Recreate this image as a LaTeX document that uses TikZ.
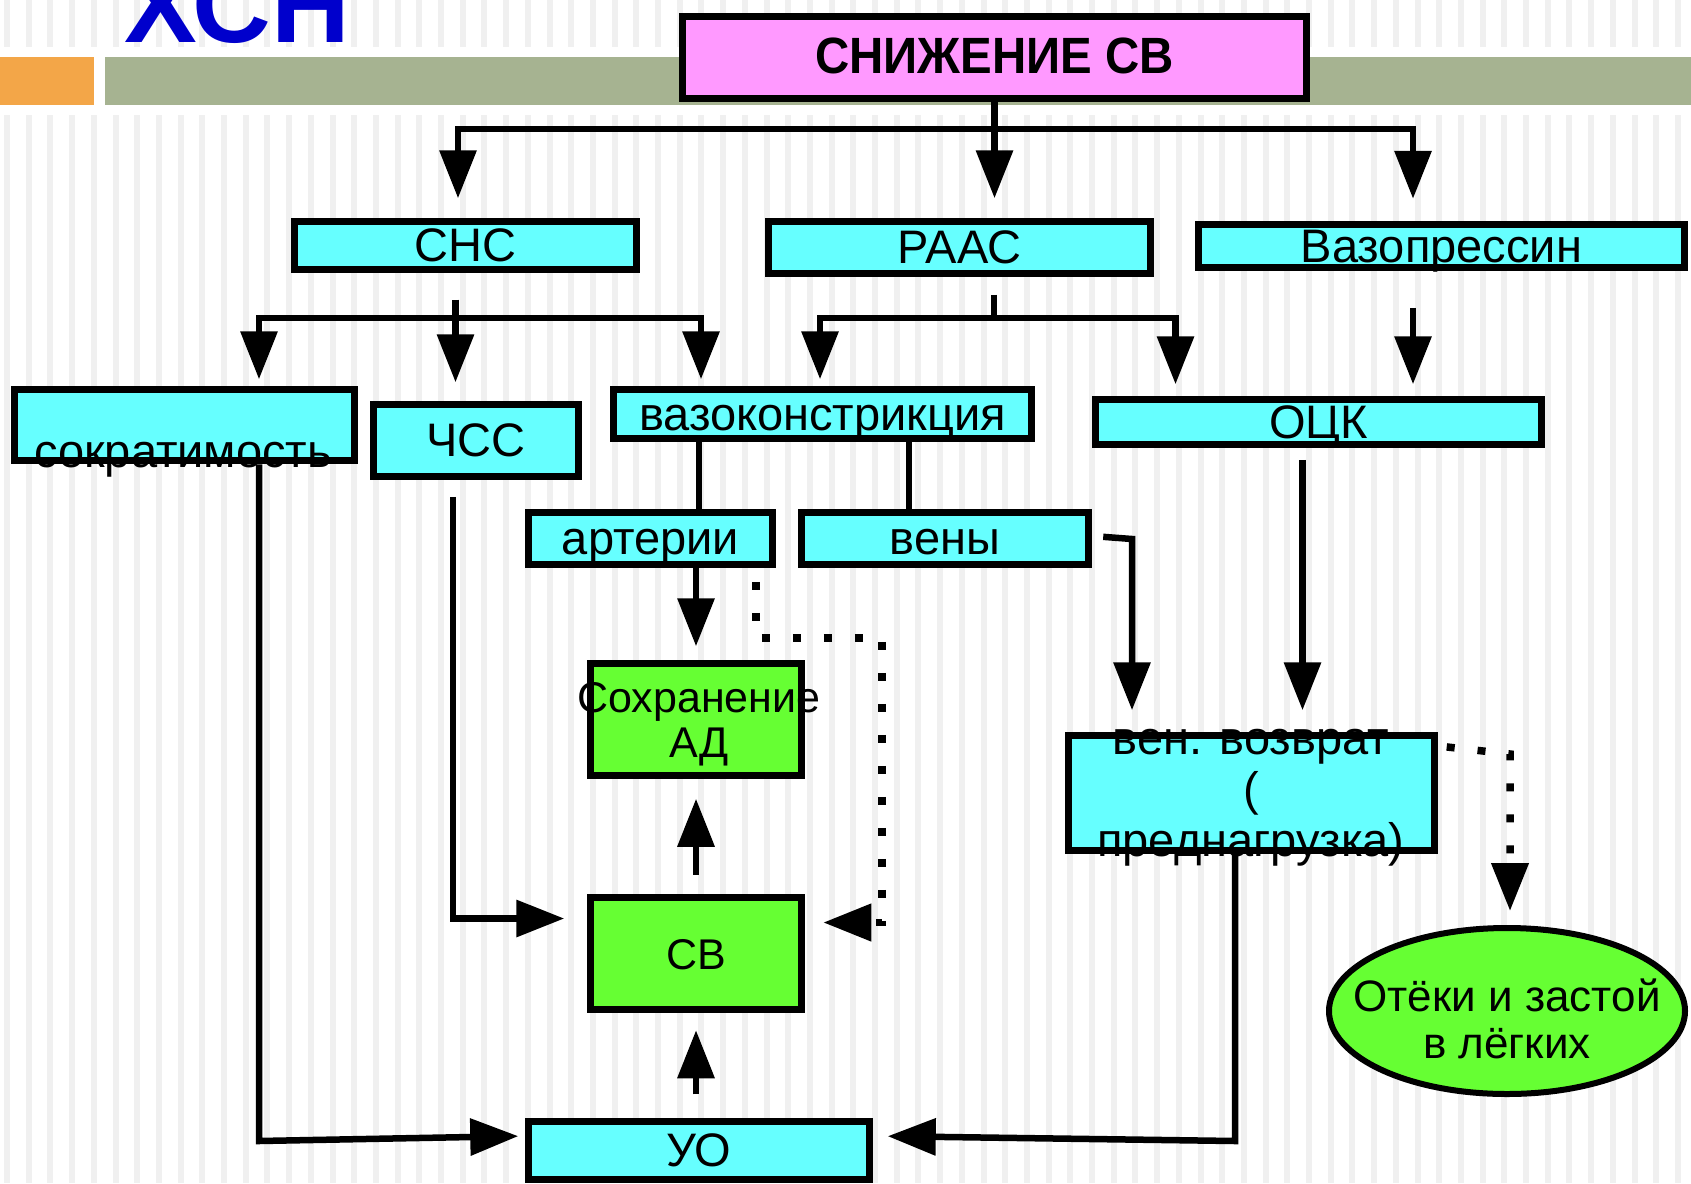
\documentclass[tikz,border=0pt]{standalone}
\usepackage{fontspec}
\setmainfont{Liberation Sans}
\newfontfamily\condfont[FakeStretch=0.93]{Liberation Sans}
\usetikzlibrary{arrows.meta,positioning,shapes.geometric}

\definecolor{boxcyan}{RGB}{102,255,255}
\definecolor{boxgreen}{RGB}{102,255,51}
\definecolor{boxpink}{RGB}{255,153,255}
\definecolor{titleblue}{RGB}{0,0,204}
\definecolor{barorange}{RGB}{243,166,72}
\definecolor{barolive}{RGB}{166,179,145}
\definecolor{stripegray}{RGB}{240,240,240}

\newcommand\boxfont{\fontsize{47}{51}\selectfont}
\newcommand\greenfont{\fontsize{43}{45}\selectfont}
\newcommand\ovalfont{\fontsize{44}{47}\selectfont}

\begin{document}
\begin{tikzpicture}[x=1pt,y=-1pt,
  block/.style={draw, line width=7.5pt, inner sep=0pt, fill=boxcyan,
    font=\boxfont, text height=36pt, text depth=4pt},
  greenblock/.style={block, fill=boxgreen, font=\greenfont},
  caption/.style={inner sep=0pt, align=center},
  wire/.style={line width=6.5pt},
  arrow/.style={wire, -{Triangle[length=48pt,width=36pt]}},
  dotarrow/.style={arrow, line width=7.5pt, dash pattern=on 8pt off 23pt}]

\useasboundingbox (0,0) rectangle (1691,1183);

% striped backdrop and header bar
\fill[white] (0,0) rectangle (1691,1183);
\foreach \i in {0,...,77}
  \fill[stripegray] (4+21.7*\i,0) rectangle ++(6,1183);
\fill[white] (0,47) rectangle (1691,115);
\fill[barorange] (0,57) rectangle (94,105);
\fill[barolive] (105,57) rectangle (1691,105);

\node[anchor=base west, inner sep=0pt, text=titleblue,
  font=\fontsize{109}{109}\selectfont\bfseries] (xsn) at (124,42) {ХСН};

% boxes
\node[block, fill=boxpink, minimum width=624pt, minimum height=82pt,
  font=\condfont\bfseries\fontsize{51}{54}\selectfont] (snizh) at (994.5,57.5) {СНИЖЕНИЕ СВ};

\node[block, minimum width=342pt, minimum height=48pt] (sns) at (465.5,245.5) {СНС};
\node[block, minimum width=382pt, minimum height=52pt] (raas) at (959.5,247.5) {РААС};
\node[block, minimum width=486pt, minimum height=43pt] (vazopr) at (1441.5,246) {Вазопрессин};

\node[block, minimum width=340pt, minimum height=71pt] (sokr) at (184.5,425) {};
\node[block, minimum width=205pt, minimum height=72pt] (chss) at (476,440.5) {ЧСС};
\node[block, minimum width=418pt, minimum height=49pt] (vazok) at (822.5,414) {вазоконстрикция};
\node[block, minimum width=446pt, minimum height=45pt] (ock) at (1318.5,422) {ОЦК};

\node[block, minimum width=244pt, minimum height=52pt] (arter) at (650.5,538.5) {артерии};
\node[block, minimum width=287pt, minimum height=52pt, right=21.5pt of arter] (veny) {вены};

\node[greenblock, minimum width=211pt, minimum height=112pt] (sohr) at (696,719.5) {};
\node[greenblock, minimum width=211pt, minimum height=112pt, below=114.5pt of sohr] (sv) {СВ};
\node[block, minimum width=341pt, minimum height=58pt] (uo) at (699,1150.5) {УО};

\node[block, minimum width=366pt, minimum height=115pt] (venvoz) at (1251.5,793) {};
\node[draw, ellipse, line width=6pt, fill=boxgreen, inner sep=0pt,
  minimum width=356pt, minimum height=166pt] (oteki) at (1507,1011) {};

\coordinate (bus-top) at (0,129);
\coordinate (bus-sns) at (0,318);
\coordinate (bus-low) at (0,1141);
\coordinate (veny-bend) at (1132,539);
\coordinate (dots-bend) at (882,638);
\coordinate (oteki-bend) at (1510,754);

% from the top box
\draw[arrow, shorten >=19.5pt] (snizh.south) -- (snizh.south |- bus-top) -| ([xshift=-7.5pt]sns.north);
\draw[arrow, shorten >=19.5pt] (snizh.south) -- (snizh.south |- raas.north);
\draw[arrow, shorten >=22pt] (snizh.south) -- (snizh.south |- bus-top) -| ([xshift=-28.5pt]vazopr.north);

% СНС fan
\draw[arrow, shorten <=26.5pt, shorten >=6.5pt] ([xshift=-10pt]sns.south) -- ([xshift=-10pt]sns.south |- bus-sns) -| ([xshift=74.5pt]sokr.north);
\draw[arrow, shorten <=26.5pt, shorten >=18.5pt] ([xshift=-10pt]sns.south) -- ([xshift=-10pt]sns.south |- chss.north);
\draw[arrow, shorten <=26.5pt, shorten >=6.5pt] ([xshift=-10pt]sns.south) -- ([xshift=-10pt]sns.south |- bus-sns) -| ([xshift=-121.5pt]vazok.north);

% РААС fan
\draw[arrow, shorten <=17.5pt, shorten >=6.5pt] ([xshift=34.5pt]raas.south) -- ([xshift=34.5pt]raas.south |- bus-sns) -| ([xshift=-2.5pt]vazok.north);
\draw[arrow, shorten <=17.5pt, shorten >=11.5pt] ([xshift=34.5pt]raas.south) -- ([xshift=34.5pt]raas.south |- bus-sns) -| ([xshift=-143pt]ock.north);

\draw[arrow, shorten <=36.5pt, shorten >=11.5pt] ([xshift=-28.5pt]vazopr.south) -- ([xshift=-28.5pt]vazopr.south |- ock.north);

% vessels
\draw[wire] ([xshift=-123.5pt]vazok.south) -- ([xshift=-123.5pt]vazok.south |- arter.north);
\draw[wire] ([xshift=86.5pt]vazok.south) -- ([xshift=86.5pt]vazok.south |- veny.north);

% centre column
\draw[arrow, shorten >=13.5pt] (sohr.north |- arter.south) -- (sohr.north);
\draw[arrow, shorten <=19pt, shorten >=19.5pt] (sv.north) -- (sohr.south);
\draw[arrow, shorten <=23.5pt, shorten >=17pt] (sv.south |- uo.north) -- (sv.south);

\draw[arrow, shorten >=6.5pt] ([xshift=74.5pt]sokr.south) -- ([xshift=74.5pt]sokr.south |- bus-low) -- ([yshift=14.5pt]uo.west);
\draw[arrow, shorten <=16.5pt, shorten >=22.5pt] ([xshift=-23pt]chss.south) |- ([yshift=35pt]sv.west);

% right column
\draw[arrow, shorten <=11pt, shorten >=21.5pt] ([yshift=2.5pt]veny.east) -- (veny-bend) -- (veny-bend |- venvoz.north);
\draw[arrow, shorten <=11.5pt, shorten >=21.5pt] ([xshift=-16pt]ock.south) -- ([xshift=-16pt]ock.south |- venvoz.north);
\draw[arrow, shorten >=14.5pt] ([xshift=-16.5pt]venvoz.south) -- ([xshift=-16.5pt]venvoz.south |- bus-low) -- ([yshift=14.5pt]uo.east);

% dotted links
\draw[dotarrow, shorten <=13.5pt, shorten >=18pt] ([xshift=105.5pt]arter.south) |- (dots-bend) |- ([yshift=31pt]sv.east);
\draw[dotarrow, shorten <=8.5pt, shorten >=14pt] ([yshift=47pt]venvoz.east) -- (oteki-bend) -- (oteki-bend |- oteki.north);

% texts running over the borders
\node[caption, anchor=base, font=\boxfont] (sokr-txt) at (183,467) {сократимость};
\node[caption, font=\greenfont] (sohr-txt) at (699,724) {Сохранение\\АД};
\node[caption, font=\boxfont] (venvoz-txt) at (1251,798) {вен. возврат\\(\\преднагрузка)};
\node[caption, font=\ovalfont] (oteki-txt) at (1507,1019) {Отёки и застой\\в лёгких};

\end{tikzpicture}
\end{document}
